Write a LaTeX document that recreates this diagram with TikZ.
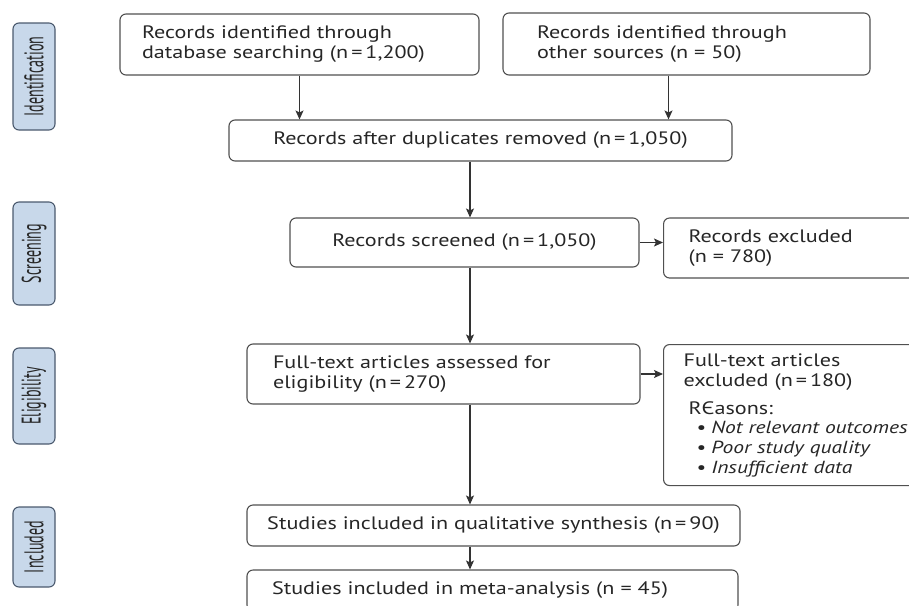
\documentclass[tikz,border=0pt]{standalone}
\usepackage{fontspec}
\usetikzlibrary{arrows.meta}
\newfontfamily\boxfont[FakeStretch=1.23]{PT Sans}
\newfontfamily\sidefont[FakeStretch=0.52]{PT Sans}
\definecolor{sidefill}{HTML}{C8D8EA}
\definecolor{sideline}{HTML}{4B5A6E}
\definecolor{boxline}{HTML}{505050}
\definecolor{ink}{HTML}{262626}
\begin{document}
\begin{tikzpicture}[x=1pt,y=-1pt,
    box/.style={draw=boxline,line width=1.1pt,rounded corners=6pt,text=ink,inner sep=0pt,
        font=\boxfont\fontsize{18}{20}\selectfont},
    leftbox/.style={box,align=left},
    stage/.style={draw=sideline,fill=sidefill,line width=1.1pt,rounded corners=6pt,rotate=90,
        minimum height=42pt,inner sep=0pt,text=ink,font=\sidefont\fontsize{27}{27}\selectfont},
    flow/.style={draw=black!80,line width=1.2pt,-{Stealth[length=9pt,width=8pt,inset=2pt]}}]
    \useasboundingbox (0,0) rectangle (909,605);

    % stages on the left
    \node[stage,minimum width=107pt] (ident) at (34,76.5) {Identification};
    \node[stage,minimum width=103pt] (screen) at (34,253.5) {Screening};
    \node[stage,minimum width=96pt] (elig) at (34,396) {Eligibility};
    \node[stage,minimum width=80pt] (incl) at (34,547) {Included};

    % flow boxes
    \node[leftbox,minimum height=61pt,text width=315pt,inner xsep=22pt] (db) at (299.5,44.5)
        {Records identified through\\database searching (n\,=\,1,200)};
    \node[leftbox,minimum height=62pt,text width=299pt,inner xsep=34pt] (other) at (686.5,44)
        {Records identified through\\other sources (n = 50)};
    \node[box,minimum width=503pt,minimum height=41pt] (dedup) at (480.5,140.5)
        {Records after duplicates removed (n\,=\,1,050)};
    \node[box,minimum width=349pt,minimum height=49pt] (screened) at (464.5,242.5)
        {Records screened (n\,=\,1,050)};
    \node[leftbox,anchor=west,minimum height=60pt,text width=300pt,inner xsep=25pt] (recex) at (663,248)
        {Records excluded\\(n = 780)};
    \node[leftbox,minimum height=60pt,text width=341pt,inner xsep=26pt] (fulltext) at (443.5,374)
        {Full-text articles assessed for\\eligibility (n\,=\,270)};
    \node[leftbox,anchor=north west,minimum height=141pt,text width=300pt,inner xsep=20pt] (fullex) at (663,344)
        {Full-text articles\\excluded (n\,=\,180)\\[8pt]
         \hspace*{5pt}RЄasons:\\
         \fontsize{17.5}{19.5}\selectfont
         \hspace*{13pt}•\hspace{5pt}\textit{Not relevant outcomes}\\
         \hspace*{13pt}•\hspace{5pt}\textit{Poor study quality}\\
         \hspace*{13pt}•\hspace{5pt}\textit{Insufficient data}};
    \node[box,minimum width=493pt,minimum height=41pt] (qual) at (493.5,525.5)
        {Studies included in qualitative synthesis (n\,=\,90)};
    \node[leftbox,minimum height=41pt,text width=441pt,inner xsep=25pt] (meta) at (492.5,590.5)
        {Studies included in meta-analysis (n = 45)};

    % arrows
    \coordinate (spine) at (470,0);
    \draw[flow] (db.south) -- (db.south |- dedup.north);
    \draw[flow] ([xshift=-18pt]other.south) -- ([xshift=-18pt]other.south |- dedup.north);
    \draw[flow] (dedup.south -| spine) -- (screened.north -| spine);
    \draw[flow] (screened.east) -- (screened.east -| recex.west);
    \draw[flow] (screened.south -| spine) -- (fulltext.north -| spine);
    \draw[flow] (fulltext.east) -- (fulltext.east -| fullex.west);
    \draw[flow] (fulltext.south -| spine) -- (qual.north -| spine);
    \draw[flow] (qual.south -| spine) -- (meta.north -| spine);
\end{tikzpicture}
\end{document}
